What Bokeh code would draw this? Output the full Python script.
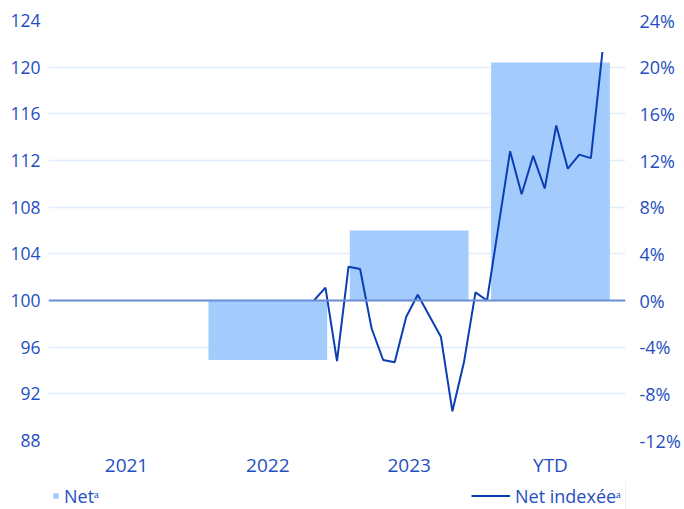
from bokeh.plotting import figure
from bokeh.layouts import column
from bokeh.models import (Range1d, LinearAxis, FixedTicker, Span, Legend, LegendItem,
                          ColumnDataSource, PrintfTickFormatter)
from bokeh.embed import file_html
from bokeh.resources import INLINE

# ---- data ----
categories = ["2021", "2022", "2023", "YTD"]
net_pct = [0.0, -5.1, 6.0, 20.4]

month_index = list(range(23, 49))
net_indexed = [100.0, 101.1, 94.8, 102.9, 102.7, 97.6, 94.9, 94.7, 98.6, 100.5,
               98.7, 96.9, 90.5, 94.7, 100.7, 100.0, 106.4, 112.8, 109.1, 112.4,
               109.6, 115.0, 111.3, 112.5, 112.2, 121.3]

left_ticks = [88, 92, 96, 100, 104, 108, 112, 116, 120, 124]
right_ticks = [-12, -8, -4, 0, 4, 8, 12, 16, 20, 24]
legend_labels = ["Netᵃ", "Net indexéeᵃ"]

TEXT = "#1f4fc0"
BAR = "#a3cbfc"
LINE = "#0b3db3"
ZERO = "#6a8fd6"
GRID = "#e4edfb"
FONT = "Open Sans"

p = figure(width=684, height=480, output_backend="svg", toolbar_location=None,
           x_range=Range1d(-0.052, 4.031), y_range=Range1d(88, 124),
           min_border_left=48, min_border_right=59, min_border_top=20,
           min_border_bottom=38)
p.extra_y_ranges = {"pct": Range1d(-12, 24)}
p.extra_x_ranges = {"m": Range1d(0, 50)}
p.outline_line_color = None
p.background_fill_color = "white"

bar_src = ColumnDataSource(dict(x=[i + 0.5 for i in range(len(categories))],
                                pct=net_pct))
r_bar = p.vbar(x="x", top="pct", bottom=0, width=0.84, y_range_name="pct",
               fill_color=BAR, line_color=None, source=bar_src)

zero = Span(location=100, dimension="width", line_color=ZERO, line_width=2)
p.add_layout(zero)

line_src = ColumnDataSource(dict(m=month_index, v=net_indexed))
r_line = p.line(x="m", y="v", x_range_name="m", line_color=LINE, line_width=2,
                source=line_src)

def style(ax, size, standoff):
    ax.axis_line_color = None
    ax.major_tick_line_color = None
    ax.minor_tick_line_color = None
    ax.major_tick_out = 0
    ax.major_tick_in = 0
    ax.minor_tick_out = 0
    ax.minor_tick_in = 0
    ax.major_label_text_font = FONT
    ax.major_label_text_font_size = size
    ax.major_label_text_color = TEXT
    ax.major_label_standoff = standoff

# x axis
xa = p.xaxis[0]
xa.ticker = FixedTicker(ticks=[i + 0.5 for i in range(len(categories))])
xa.major_label_overrides = {i + 0.5: c for i, c in enumerate(categories)}
style(xa, "19px", 11)

# left axis
ya = p.yaxis[0]
ya.ticker = FixedTicker(ticks=left_ticks)
style(ya, "17.5px", 8)

# right axis
ra = LinearAxis(y_range_name="pct", ticker=FixedTicker(ticks=right_ticks),
                formatter=PrintfTickFormatter(format="%d%%"))
style(ra, "18px", 14)
p.add_layout(ra, "right")

p.xgrid.visible = False
p.ygrid.ticker = FixedTicker(ticks=left_ticks)
p.ygrid.grid_line_color = GRID
p.ygrid.grid_line_width = 1.5

# ---- legend strip (frame aligned with the chart frame) ----
lg = figure(width=684, height=29, output_backend="svg", toolbar_location=None,
            x_range=Range1d(0, 1), y_range=Range1d(0, 1),
            min_border_left=48, min_border_right=59, min_border_top=0,
            min_border_bottom=0)
lg.axis.visible = False
lg.grid.visible = False
lg.outline_line_color = None
d_bar = lg.vbar(x=[5], top=[5], width=0.5, fill_color=BAR, line_color=None)
d_line = lg.line(x=[5, 6], y=[5, 5], line_color=LINE, line_width=2)

common = dict(background_fill_alpha=0, border_line_color=None, padding=0,
              margin=0, spacing=0, label_text_font=FONT, label_text_font_size="18px",
              label_text_color=TEXT, label_standoff=5, label_height=25)
leg1 = Legend(items=[LegendItem(label=legend_labels[0], renderers=[d_bar])],
              location=(4, 1), glyph_width=7, glyph_height=7, **common)
leg2 = Legend(items=[LegendItem(label=legend_labels[1], renderers=[d_line])],
              location=(423, 1), glyph_width=39, glyph_height=25, **common)
lg.add_layout(leg1)
lg.add_layout(leg2)

layout = column(p, lg, spacing=0)
open("out.html", "w").write(file_html(layout, INLINE))
